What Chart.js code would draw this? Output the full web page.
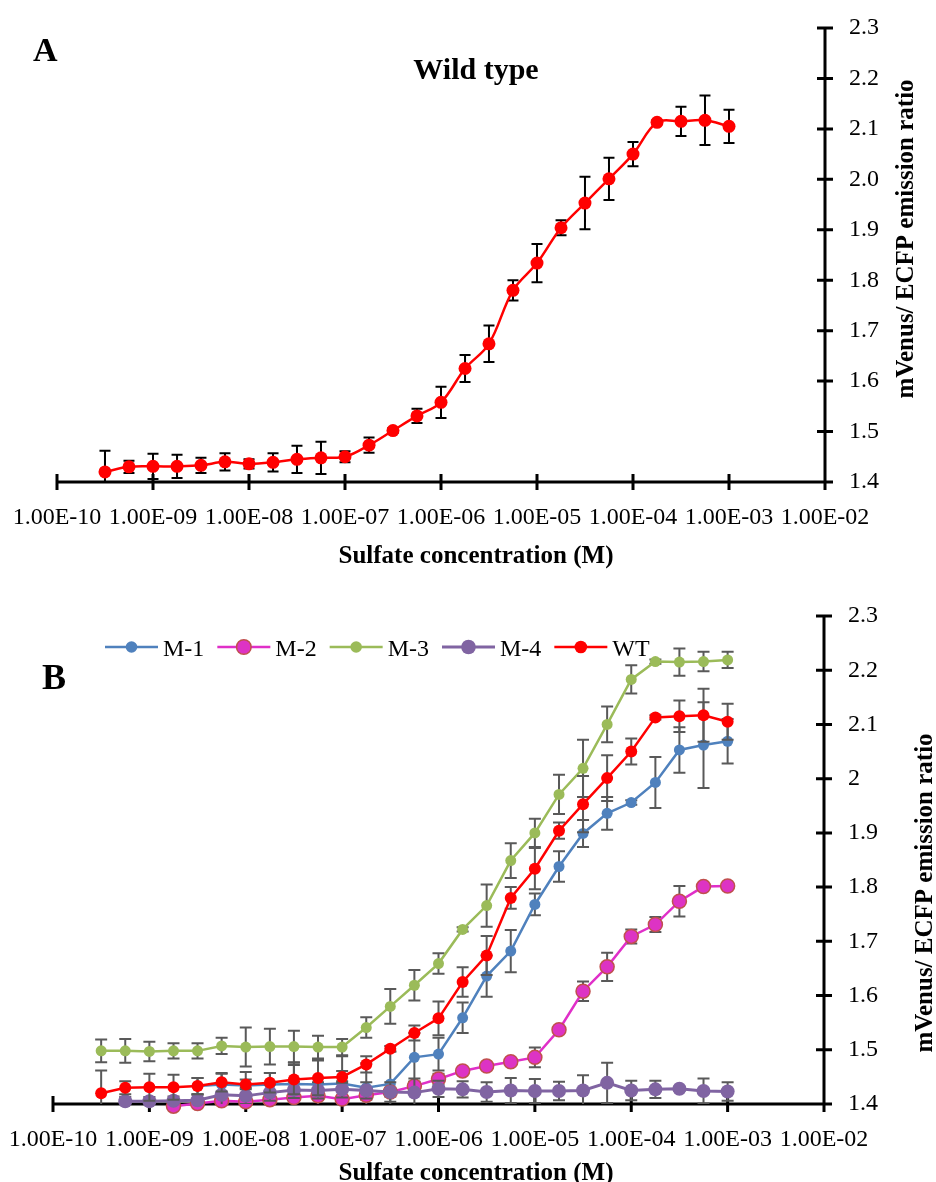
<!DOCTYPE html>
<html>
<head>
<meta charset="utf-8">
<script src="https://cdn.jsdelivr.net/npm/chart.js@4.4.0/dist/chart.umd.min.js"></script>
<style>
  html, body { margin: 0; padding: 0; background: #ffffff; }
  #page { position: relative; width: 936px; height: 1182px; overflow: hidden; background: #ffffff; }
  #page canvas { position: absolute; left: 0; }
</style>
</head>
<body>
<div id="page">
  <canvas id="panelA" width="936" height="590" style="top:0px"></canvas>
  <canvas id="panelB" width="936" height="592" style="top:590px"></canvas>
</div>
<script>
// Sulfate concentrations (M), quarter-decade dilution series
const concentrations = [3.16e-10, 5.62e-10, 1.00e-9, 1.78e-9, 3.16e-9, 5.62e-9, 1.00e-8, 1.78e-8, 3.16e-8,
  5.62e-8, 1.00e-7, 1.78e-7, 3.16e-7, 5.62e-7, 1.00e-6, 1.78e-6, 3.16e-6, 5.62e-6, 1.00e-5, 1.78e-5,
  3.16e-5, 5.62e-5, 1.00e-4, 1.78e-4, 3.16e-4, 5.62e-4, 1.00e-3];

// mVenus/ECFP emission ratio, mean and error for each sensor variant
const wtRatio = [1.420, 1.430, 1.431, 1.431, 1.433, 1.440, 1.436, 1.439, 1.445, 1.448, 1.450, 1.473, 1.502,
  1.531, 1.558, 1.625, 1.674, 1.780, 1.834, 1.904, 1.953, 2.001, 2.050, 2.113, 2.115, 2.117, 2.105];
const wtError = [0.042, 0.012, 0.025, 0.023, 0.015, 0.017, 0.009, 0.018, 0.027, 0.032, 0.011, 0.015, 0.005,
  0.014, 0.031, 0.027, 0.036, 0.020, 0.038, 0.015, 0.052, 0.042, 0.024, 0.004, 0.029, 0.049, 0.033];

const m1Ratio = [null, null, null, null, 1.433, 1.436, 1.434, 1.436, 1.437, 1.436, 1.438, 1.430, 1.437,
  1.486, 1.492, 1.559, 1.636, 1.682, 1.768, 1.838, 1.899, 1.936, 1.956, 1.993, 2.053, 2.062, 2.069];
const m1Error = [null, null, null, null, 0.015, 0.020, 0.025, 0.021, 0.039, 0.047, 0.050, 0.045, 0.060,
  0.045, 0.030, 0.028, 0.038, 0.039, 0.020, 0.028, 0.025, 0.030, 0.004, 0.047, 0.042, 0.079, 0.041];

const m2Ratio = [null, null, null, 1.396, 1.401, 1.406, 1.404, 1.408, 1.412, 1.415, 1.409, 1.416, 1.422,
  1.433, 1.446, 1.461, 1.470, 1.478, 1.486, 1.537, 1.608, 1.653, 1.709, 1.731, 1.774, 1.801, 1.802];
const m2Error = [null, null, null, 0.005, 0.005, 0.006, 0.006, 0.006, 0.006, 0.006, 0.006, 0.008, 0.008,
  0.008, 0.010, 0.006, 0.006, 0.005, 0.018, 0.004, 0.018, 0.026, 0.013, 0.014, 0.028, 0.004, 0.004];

const m3Ratio = [1.498, 1.498, 1.497, 1.498, 1.498, 1.507, 1.505, 1.506, 1.506, 1.505, 1.505, 1.541, 1.580,
  1.619, 1.659, 1.722, 1.766, 1.849, 1.900, 1.971, 2.019, 2.100, 2.183, 2.216, 2.215, 2.216, 2.219];
const m3Error = [0.021, 0.022, 0.018, 0.014, 0.014, 0.015, 0.036, 0.033, 0.029, 0.021, 0.015, 0.019, 0.032,
  0.028, 0.019, 0.004, 0.039, 0.032, 0.026, 0.036, 0.053, 0.033, 0.026, 0.004, 0.025, 0.018, 0.015];

const m4Ratio = [null, 1.405, 1.405, 1.406, 1.407, 1.417, 1.415, 1.421, 1.426, 1.425, 1.427, 1.425, 1.422,
  1.421, 1.428, 1.427, 1.422, 1.425, 1.424, 1.424, 1.425, 1.439, 1.425, 1.427, 1.428, 1.424, 1.423];
const m4Error = [null, 0.008, 0.008, 0.008, 0.010, 0.020, 0.015, 0.015, 0.015, 0.015, 0.015, 0.015, 0.018,
  0.026, 0.015, 0.015, 0.018, 0.023, 0.022, 0.017, 0.028, 0.037, 0.018, 0.016, 0.004, 0.023, 0.017];

// Axis ticks and labels
const xTickValues = [1e-10, 1e-9, 1e-8, 1e-7, 1e-6, 1e-5, 1e-4, 1e-3, 1e-2];
const xTickLabels = ['1.00E-10', '1.00E-09', '1.00E-08', '1.00E-07', '1.00E-06', '1.00E-05', '1.00E-04', '1.00E-03', '1.00E-02'];
const yTickValues = [1.4, 1.5, 1.6, 1.7, 1.8, 1.9, 2.0, 2.1, 2.2, 2.3];
const yTickLabelsA = ['1.4', '1.5', '1.6', '1.7', '1.8', '1.9', '2.0', '2.1', '2.2', '2.3'];
const yTickLabelsB = ['1.4', '1.5', '1.6', '1.7', '1.8', '1.9', '2', '2.1', '2.2', '2.3'];

const SERIF = '"Liberation Serif", "Times New Roman", serif';
const X_TITLE = 'Sulfate concentration (M)';
const Y_TITLE = 'mVenus/ ECFP emission ratio';

// Pair each concentration with its mean and error; missing points are dropped
function seriesPoints(values, errors) {
  const pts = [];
  concentrations.forEach((c, i) => {
    if (values[i] !== null) pts.push({ x: c, y: values[i], e: errors[i] });
  });
  return pts;
}

// Axis lines with tick marks that cross the line on both sides
const crossAxes = {
  id: 'crossAxes',
  beforeDatasetsDraw(chart) {
    const { ctx, chartArea: a, scales: { x, y } } = chart;
    ctx.save();
    ctx.strokeStyle = '#000000';
    ctx.lineWidth = 3;
    ctx.beginPath();
    ctx.moveTo(a.left - 1.5, a.bottom);
    ctx.lineTo(a.right + 1.5, a.bottom);
    ctx.moveTo(a.right, a.top - 1.5);
    ctx.lineTo(a.right, a.bottom + 1.5);
    x.ticks.forEach(t => {
      const px = x.getPixelForValue(t.value);
      ctx.moveTo(px, a.bottom - 8);
      ctx.lineTo(px, a.bottom + 8);
    });
    y.ticks.forEach(t => {
      const py = y.getPixelForValue(t.value);
      ctx.moveTo(a.right - 8, py);
      ctx.lineTo(a.right + 8, py);
    });
    ctx.stroke();
    ctx.restore();
  }
};

// Vertical error bars with caps, drawn just before their own series
const errorBars = {
  id: 'errorBars',
  beforeDatasetDraw(chart, args) {
    const ds = chart.data.datasets[args.index];
    if (!ds.errorColor) return;
    const { ctx, chartArea: a } = chart;
    const yScale = chart.scales.y;
    ctx.save();
    ctx.beginPath();
    ctx.rect(a.left, a.top, a.right - a.left, a.bottom - a.top);
    ctx.clip();
    ctx.strokeStyle = ds.errorColor;
    ctx.lineWidth = ds.errorWidth;
    ctx.beginPath();
    args.meta.data.forEach((el, j) => {
      const d = ds.data[j];
      if (!d || !d.e) return;
      const top = yScale.getPixelForValue(d.y + d.e);
      const bot = yScale.getPixelForValue(d.y - d.e);
      const cx = el.x, w = ds.errorCap;
      ctx.moveTo(cx, top); ctx.lineTo(cx, bot);
      ctx.moveTo(cx - w, top); ctx.lineTo(cx + w, top);
      ctx.moveTo(cx - w, bot); ctx.lineTo(cx + w, bot);
    });
    ctx.stroke();
    ctx.restore();
  }
};

// Panel letters, headings and rotated axis titles
const panelText = {
  id: 'panelText',
  afterDraw(chart, args, opts) {
    const ctx = chart.ctx;
    (opts.items || []).forEach(it => {
      ctx.save();
      ctx.font = it.font;
      ctx.fillStyle = '#000000';
      ctx.textAlign = it.align || 'center';
      ctx.textBaseline = 'alphabetic';
      ctx.translate(it.x, it.y);
      if (it.rotate) ctx.rotate(it.rotate);
      ctx.fillText(it.text, 0, 0);
      ctx.restore();
    });
  }
};

// Legend entries drawn as a line segment with the series marker in its middle
const lineLegend = {
  id: 'lineLegend',
  afterDraw(chart, args, opts) {
    if (!opts.display) return;
    const ctx = chart.ctx;
    let x = opts.x;
    const y = opts.y;
    ctx.save();
    ctx.font = opts.font;
    ctx.textAlign = 'left';
    ctx.textBaseline = 'alphabetic';
    chart.data.datasets.forEach(ds => {
      ctx.strokeStyle = ds.borderColor;
      ctx.lineWidth = ds.borderWidth;
      ctx.beginPath();
      ctx.moveTo(x, y);
      ctx.lineTo(x + opts.lineLength, y);
      ctx.stroke();
      ctx.beginPath();
      ctx.arc(x + opts.lineLength / 2, y, ds.pointRadius + opts.markerGrow, 0, Math.PI * 2);
      ctx.fillStyle = ds.pointBackgroundColor;
      ctx.fill();
      if (ds.pointBorderWidth) {
        ctx.lineWidth = ds.pointBorderWidth;
        ctx.strokeStyle = ds.pointBorderColor;
        ctx.stroke();
      }
      const tx = x + opts.lineLength + opts.gap;
      ctx.fillStyle = '#000000';
      ctx.fillText(ds.label, tx, y + opts.textDrop);
      x = tx + ctx.measureText(ds.label).width + opts.spacing;
    });
    ctx.restore();
  }
};

function seriesStyle(color, fill, border, radius, width, borderW) {
  return {
    borderColor: color,
    backgroundColor: color,
    pointBackgroundColor: fill,
    pointBorderColor: border,
    pointBorderWidth: borderW,
    pointRadius: radius,
    pointHoverRadius: radius,
    borderWidth: width,
    tension: 0,
    clip: 10
  };
}

// Keep the plot frame fixed by the layout padding, not by label overhang
function noOverhang(s) {
  s.paddingLeft = 0; s.paddingRight = 0; s.paddingTop = 0; s.paddingBottom = 0;
}

function scaleOptions(yLabels, xHeight, yWidth) {
  return {
    x: {
      type: 'logarithmic',
      position: 'bottom',
      min: 1e-10,
      max: 1e-2,
      grid: { display: false, drawTicks: false },
      border: { display: false },
      afterBuildTicks: s => { s.ticks = xTickValues.map(v => ({ value: v })); },
      afterFit: s => { s.height = xHeight; noOverhang(s); },
      ticks: {
        autoSkip: false, maxRotation: 0, minRotation: 0,
        padding: 21,
        color: '#000000',
        font: { family: SERIF, size: 24 },
        callback: (v, i) => xTickLabels[i]
      }
    },
    y: {
      type: 'linear',
      position: 'right',
      min: 1.4,
      max: 2.3,
      grid: { display: false, drawTicks: false },
      border: { display: false },
      afterBuildTicks: s => { s.ticks = yTickValues.map(v => ({ value: v })); },
      afterFit: s => { s.width = yWidth; noOverhang(s); },
      ticks: {
        padding: 24,
        color: '#000000',
        font: { family: SERIF, size: 24 },
        callback: (v, i) => yLabels[i]
      }
    }
  };
}

Chart.defaults.font.family = SERIF;

// Panel A: wild-type sensor
new Chart(document.getElementById('panelA'), {
  type: 'line',
  data: {
    datasets: [Object.assign(seriesStyle('#FF0000', '#FF0000', '#FF0000', 6.5, 2.5, 0), {
      label: 'WT',
      data: seriesPoints(wtRatio, wtError),
      tension: 0.35,
      errorColor: '#000000', errorWidth: 2, errorCap: 5.5
    })]
  },
  options: {
    responsive: false,
    animation: false,
    devicePixelRatio: 1,
    events: [],
    layout: { padding: { left: 57, top: 28, right: 0, bottom: 0 } },
    scales: scaleOptions(yTickLabelsA, 108, 111),
    plugins: {
      legend: { display: false },
      tooltip: { enabled: false },
      lineLegend: { display: false },
      panelText: {
        items: [
          { text: 'A', x: 33, y: 61, font: 'bold 34px ' + SERIF, align: 'left' },
          { text: 'Wild type', x: 476, y: 79, font: 'bold 30px ' + SERIF },
          { text: X_TITLE, x: 476, y: 563, font: 'bold 25px ' + SERIF },
          { text: Y_TITLE, x: 913, y: 239, font: 'bold 25px ' + SERIF, rotate: -Math.PI / 2 }
        ]
      }
    }
  },
  plugins: [crossAxes, errorBars, panelText, lineLegend]
});

// Panel B: mutants compared with wild type
const gray = '#595959';
new Chart(document.getElementById('panelB'), {
  type: 'line',
  data: {
    datasets: [
      Object.assign(seriesStyle('#4F81BD', '#4F81BD', '#4F81BD', 5.5, 2.5, 0), {
        label: 'M-1', data: seriesPoints(m1Ratio, m1Error), order: 5,
        errorColor: gray, errorWidth: 2, errorCap: 6
      }),
      Object.assign(seriesStyle('#E02FC8', '#DD33C4', '#C0504D', 7, 2.5, 1.5), {
        label: 'M-2', data: seriesPoints(m2Ratio, m2Error), order: 4,
        errorColor: gray, errorWidth: 2, errorCap: 6
      }),
      Object.assign(seriesStyle('#9BBB59', '#9BBB59', '#9BBB59', 5.5, 2.5, 0), {
        label: 'M-3', data: seriesPoints(m3Ratio, m3Error), order: 3,
        errorColor: gray, errorWidth: 2, errorCap: 6
      }),
      Object.assign(seriesStyle('#8064A2', '#8064A2', '#8064A2', 7, 3, 0), {
        label: 'M-4', data: seriesPoints(m4Ratio, m4Error), order: 2,
        errorColor: gray, errorWidth: 2, errorCap: 6
      }),
      Object.assign(seriesStyle('#FF0000', '#FF0000', '#FF0000', 6, 2.5, 0), {
        label: 'WT', data: seriesPoints(wtRatio, wtError), order: 1,
        errorColor: gray, errorWidth: 2, errorCap: 6
      })
    ]
  },
  options: {
    responsive: false,
    animation: false,
    devicePixelRatio: 1,
    events: [],
    layout: { padding: { left: 53, top: 26, right: 0, bottom: 0 } },
    scales: scaleOptions(yTickLabelsB, 78, 112),
    plugins: {
      legend: { display: false },
      tooltip: { enabled: false },
      lineLegend: {
        display: true, x: 105, y: 57, lineLength: 53, gap: 5, spacing: 13,
        markerGrow: 0.3, textDrop: 8.5, font: '24px ' + SERIF
      },
      panelText: {
        items: [
          { text: 'B', x: 42, y: 99, font: 'bold 36px ' + SERIF, align: 'left' },
          { text: X_TITLE, x: 476, y: 590, font: 'bold 25px ' + SERIF },
          { text: Y_TITLE, x: 932, y: 303, font: 'bold 25px ' + SERIF, rotate: -Math.PI / 2 }
        ]
      }
    }
  },
  plugins: [crossAxes, errorBars, panelText, lineLegend]
});
</script>
</body>
</html>
